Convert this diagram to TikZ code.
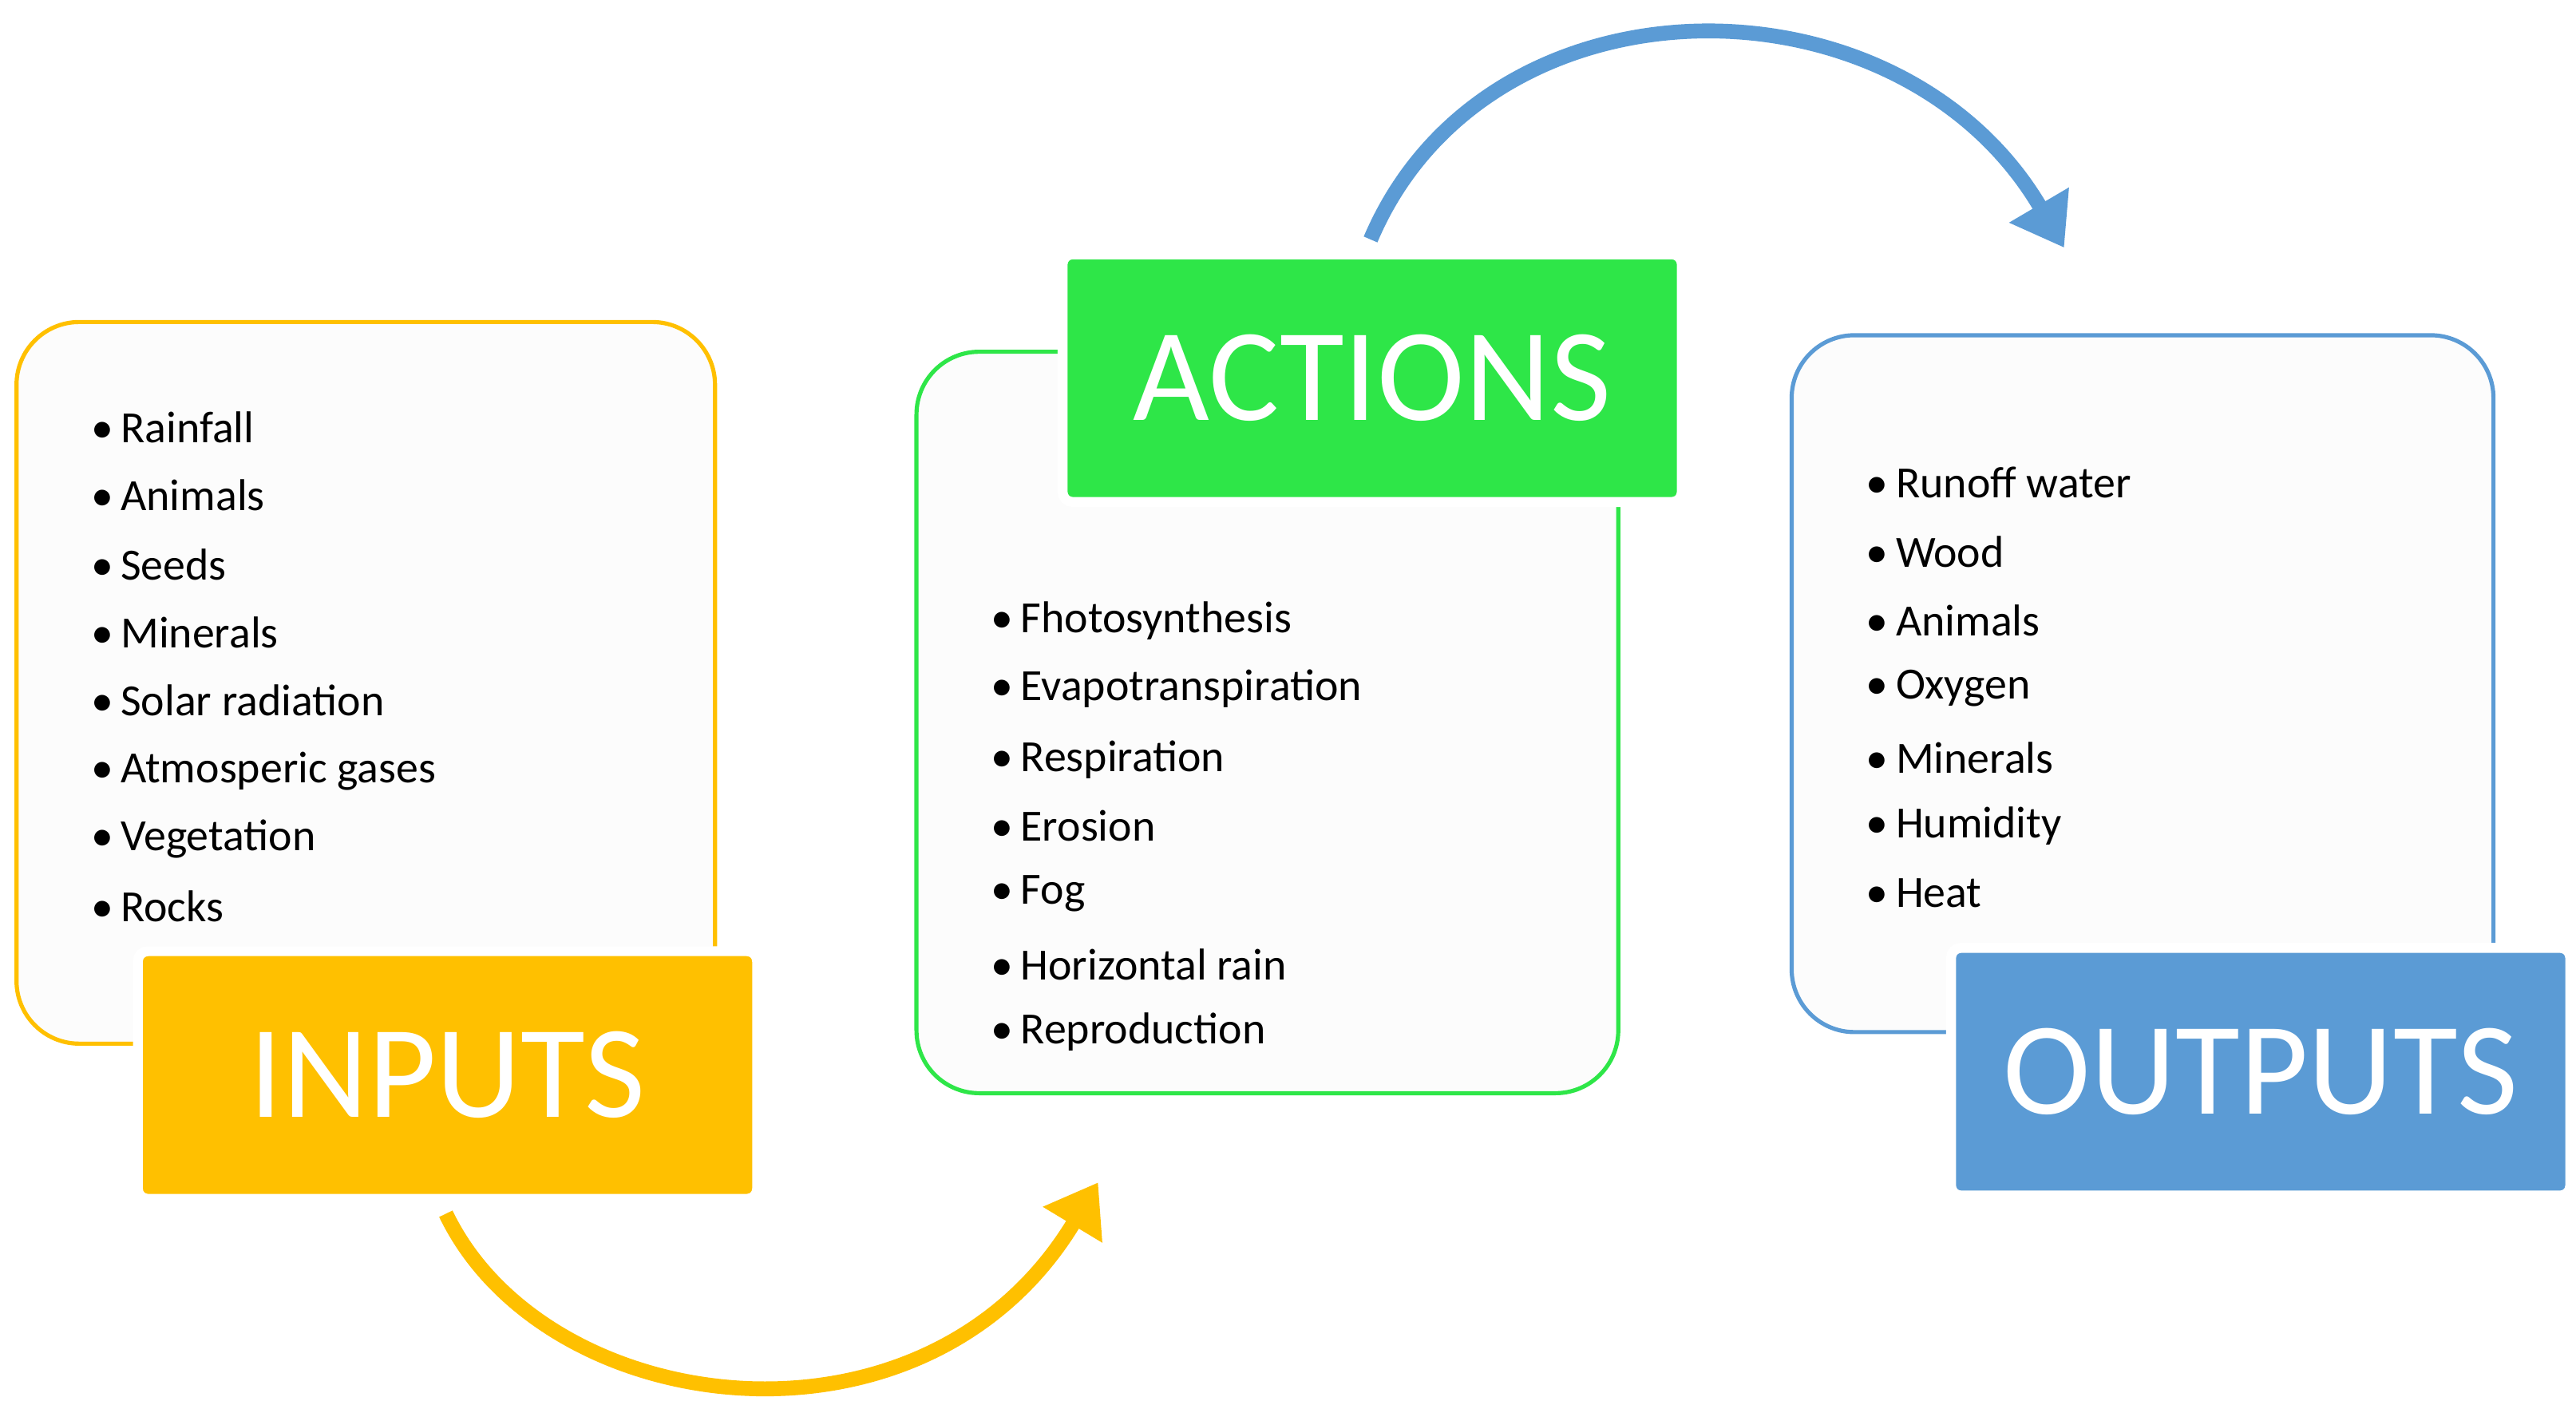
\documentclass[tikz,border=0pt]{standalone}
\usepackage{fontspec}
\setmainfont{Carlito}
\usetikzlibrary{arrows.meta}
\definecolor{cin}{RGB}{255,192,0}
\definecolor{cact}{RGB}{46,230,72}
\definecolor{cout}{RGB}{91,155,213}
\definecolor{bg}{RGB}{252,252,252}
\begin{document}
\begin{tikzpicture}[x=1pt,y=-1pt,
  box/.style={draw=#1,line width=2.5pt,fill=bg,rounded corners=38pt},
  lab/.style={fill=#1,draw=white,line width=5pt,rounded corners=5pt,text=white,font=\fontsize{78}{80}\selectfont,minimum width=#1!0!black!0,inner sep=0pt},
  item/.style={anchor=west,font=\fontsize{27}{29}\selectfont,inner sep=0pt},
  arr/.style={draw=#1,line width=9pt,-{Triangle[length=30pt,width=40pt]}}]
\useasboundingbox (0,0) rectangle (1560,848);
% boxes
\draw[box=cin] (10,195) rectangle (433,632);
\draw[box=cact] (555,213) rectangle (980,662);
\draw[box=cout] (1085,203) rectangle (1510,625);
% labels
\node[fill=cin,draw=white,line width=6pt,rounded corners=6pt,minimum width=375pt,minimum height=150pt,text=white,font=\fontsize{80}{82}\selectfont] (inputs) at (271,651) {INPUTS};
\node[fill=cact,draw=white,line width=6pt,rounded corners=6pt,minimum width=375pt,minimum height=150pt,text=white,font=\fontsize{80}{82}\selectfont] (actions) at (831,229) {ACTIONS};
\node[fill=cout,draw=white,line width=6pt,rounded corners=6pt,minimum width=375pt,minimum height=150pt,text=white,font=\fontsize{80}{82}\selectfont] (outputs) at (1369,649) {OUTPUTS};
% items
\foreach \t/\y [count=\i] in {Rainfall/259,Animals/300,Seeds/342,Minerals/383,Solar radiation/424,Atmosperic gases/467,Vegetation/508,Rocks/549}
  \node[item] (in\i) at (55,\y) {\textbullet\,\t};
\foreach \t/\y [count=\i] in {Fhotosynthesis/376,Evapotranspiration/417,Respiration/460,Erosion/500,Fog/541,Horizontal rain/584,Reproduction/625}
  \node[item] (ac\i) at (600,\y) {\textbullet\,\t};
\foreach \t/\y [count=\i] in {Runoff water/292,Wood/334,Animals/376,Oxygen/417,Minerals/459,Humidity/500,Heat/541}
  \node[item] (ou\i) at (1130,\y) {\textbullet\,\t};
% arrows
\coordinate (a1s) at (270,735);
\coordinate (a1e) at (665,716);
\coordinate (a2s) at (830,145);
\coordinate (a2e) at (1250,150);
\draw[arr=cin] (a1s) .. controls (330,860) and (560,890) .. (a1e);
\draw[arr=cout] (a2s) .. controls (900,-20) and (1150,-20) .. (a2e);
\end{tikzpicture}
\end{document}
